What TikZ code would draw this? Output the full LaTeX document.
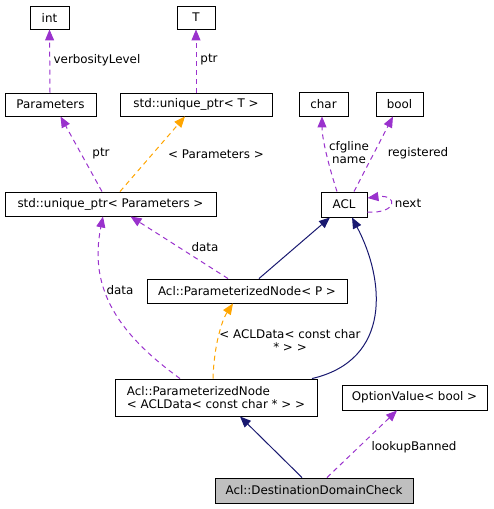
\documentclass[tikz,border=0pt]{standalone}
\usepackage{fontspec}
\setmainfont{DejaVu Sans}
\usetikzlibrary{arrows.meta}
\definecolor{purp}{HTML}{9A32CD}
\definecolor{orng}{HTML}{FFA500}
\definecolor{navyc}{HTML}{191970}
\definecolor{grayfill}{HTML}{BFBFBF}
\begin{document}
\begin{tikzpicture}[x=1pt,y=1pt,
 box/.style={draw=black, line width=0.9pt, fill=white, inner sep=0pt, font=\fontsize{11.9}{13.5}\selectfont},
 lbl/.style={inner sep=0pt, font=\fontsize{11.9}{13}\selectfont, align=center},
 tip/.style={-{Triangle[length=11pt,width=9pt]}},
 uses/.style={tip, draw=purp, line width=1pt, dash pattern=on 5pt off 4pt},
 tmpl/.style={tip, draw=orng, line width=1pt, dash pattern=on 5pt off 4pt},
 inh/.style={tip, draw=navyc, line width=1pt}]
\useasboundingbox (0,0) rectangle (493,-509);
% nodes
\node[box,minimum width=39pt,minimum height=23pt] (int) at (49.5,-17.5) {int};
\node[box,minimum width=38pt,minimum height=23pt] (T) at (196,-17.5) {T};
\node[box,minimum width=91pt,minimum height=23pt] (params) at (50.5,-104.5) {Parameters};
\node[box,minimum width=152pt,minimum height=23pt] (uptrT) at (196,-104.5) {std::unique\_ptr< T >};
\node[box,minimum width=49pt,minimum height=24pt] (char) at (323.5,-104) {char};
\node[box,minimum width=47pt,minimum height=24pt] (bool) at (399.5,-104) {bool};
\node[box,minimum width=46pt,minimum height=25pt] (acl) at (344,-204.5) {ACL};
\node[box,minimum width=211pt,minimum height=24pt] (uptrP) at (110.5,-204) {std::unique\_ptr< Parameters >};
\node[box,minimum width=200pt,minimum height=24pt] (pnP) at (247,-291) {Acl::ParameterizedNode< P >};
\node[box,minimum width=202pt,minimum height=37pt,align=left] (pnA) at (216,-397.5) {Acl::ParameterizedNode\\< ACLData< const char * > >};
\node[box,minimum width=145pt,minimum height=25pt] (opt) at (414.5,-397.5) {OptionValue< bool >};
\node[box,fill=grayfill,minimum width=198pt,minimum height=25pt] (ddc) at (314,-490.5) {Acl::DestinationDomainCheck};
% edges
\draw[uses] ([xshift=-0.5pt]params.north) -- (int.south);
\draw[uses] (uptrT.north) -- (T.south);
\draw[uses] ([xshift=-8.5pt]uptrP.north) -- ([xshift=10pt]params.south);
\draw[tmpl] ([xshift=9.5pt]uptrP.north) -- ([xshift=-11pt]uptrT.south);
\draw[uses] ([xshift=-7pt]acl.north) .. controls (330,-170) and (322,-140) .. ([xshift=-1.5pt]char.south);
\draw[uses] ([xshift=10pt]acl.north) -- ([xshift=-6.5pt]bool.south);
\draw[uses] ([yshift=-7.5pt]acl.east) .. controls (398,-214) and (398,-194) .. ([yshift=6.5pt]acl.east);
\draw[uses] ([xshift=-19pt]pnP.north) -- ([xshift=20pt]uptrP.south);
\draw[inh] ([xshift=12pt]pnP.north) -- ([xshift=-14pt]acl.south);
\draw[uses] ([xshift=-36pt]pnA.north) .. controls (120,-335) and (88,-290) .. ([xshift=-7.5pt]uptrP.south);
\draw[tmpl] ([xshift=-3pt]pnA.north) .. controls (214,-345) and (222,-320) .. ([xshift=-14pt]pnP.south);
\draw[inh] ([xshift=96pt]pnA.north) .. controls (392,-360) and (385,-280) .. ([xshift=8pt]acl.south);
\draw[inh] ([xshift=-12pt]ddc.north) -- ([xshift=24pt]pnA.south);
\draw[uses] ([xshift=13pt]ddc.north) -- ([xshift=-17.5pt]opt.south);
% labels
\node[lbl] (l1) at (97,-60) {verbosityLevel};
\node[lbl] (l2) at (209,-60) {ptr};
\node[lbl] (l3) at (101,-154) {ptr};
\node[lbl] (l4) at (216,-154) {< Parameters >};
\node[lbl] (l5) at (349,-153) {cfgline\\name};
\node[lbl] (l6) at (418,-153) {registered};
\node[lbl] (l7) at (408,-203) {next};
\node[lbl] (l8) at (205,-247) {data};
\node[lbl] (l9) at (120,-290) {data};
\node[lbl] (l10) at (290,-340) {< ACLData< const char\\* > >};
\node[lbl] (l11) at (414,-447) {lookupBanned};
\end{tikzpicture}
\end{document}
